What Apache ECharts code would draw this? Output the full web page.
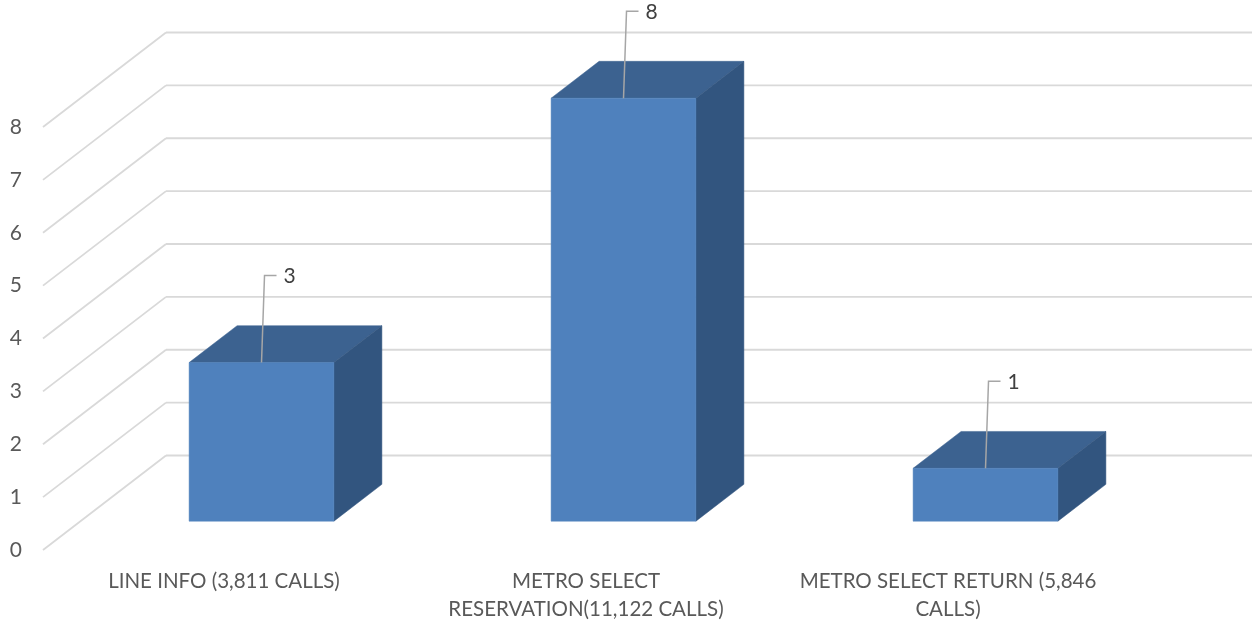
<!DOCTYPE html>
<html><head><meta charset="utf-8">
<script src="https://cdn.jsdelivr.net/npm/echarts@6/dist/echarts.min.js"></script>
<style>html,body{margin:0;padding:0;background:#fff}#c{width:1257px;height:627px}</style>
</head><body><div id="c"></div>
<script>
const categories = ['LINE INFO (3,811 CALLS)', 'METRO SELECT\nRESERVATION(11,122 CALLS)', 'METRO SELECT RETURN (5,846\nCALLS)'];
const values = [3, 8, 1];
const yTicks = [0, 1, 2, 3, 4, 5, 6, 7, 8];

const DX = 123, DY = -94.5;      // depth vector front->back wall
const F1 = 0.305, F2 = 0.695;    // bar front/back depth fractions
const BAR_W = 0.40;              // fraction of category band
const FONT = 'Lato';

const chart = echarts.init(document.getElementById('c'), null, {renderer: 'canvas'});
function pt(p, f) { return [p[0] + f * DX, p[1] + f * DY]; }

chart.setOption({
  animation: false,
  grid: {left: 43, right: 128, top: 127, bottom: 77},
  xAxis: {
    type: 'category', data: categories,
    axisLine: {show: false}, axisTick: {show: false},
    axisLabel: {color: '#595959', fontFamily: FONT, fontSize: 20.5, margin: 17, lineHeight: 28, interval: 0}
  },
  yAxis: {
    type: 'value', min: 0, max: 8, interval: 1,
    axisLine: {show: false}, axisTick: {show: false}, splitLine: {show: false},
    axisLabel: {color: '#595959', fontFamily: FONT, fontSize: 21, margin: 21, padding: [8, 0, 0, 0]}
  },
  series: [
    {
      type: 'custom', silent: true, z: 1,
      data: yTicks.map(v => [v]),
      renderItem: function (params, api) {
        const v = api.value(0);
        const band = api.size([1, 0])[0];
        const c0 = api.coord([0, v]);
        const c2 = api.coord([categories.length - 1, v]);
        const left = [c0[0] - band / 2, c0[1]];
        const right = [c2[0] + band / 2, c2[1]];
        const bl = pt(left, 1), br = pt(right, 1);
        const st = {stroke: '#d9d9d9', lineWidth: 1.8, fill: null};
        return {type: 'group', children: [
          {type: 'line', shape: {x1: bl[0], y1: bl[1], x2: br[0], y2: br[1]}, style: st},
          {type: 'line', shape: {x1: left[0], y1: left[1], x2: bl[0], y2: bl[1]}, style: st}
        ]};
      }
    },
    {
      type: 'custom', silent: true, z: 2,
      data: values.map((v, i) => [i, v]),
      renderItem: function (params, api) {
        const i = api.value(0), v = api.value(1);
        const band = api.size([1, 0])[0];
        const w = band * BAR_W;
        const b = api.coord([i, 0]), t = api.coord([i, v]);
        const xl = b[0] - w / 2, xr = b[0] + w / 2;
        const fbl = pt([xl, b[1]], F1), fbr = pt([xr, b[1]], F1);
        const ftl = pt([xl, t[1]], F1), ftr = pt([xr, t[1]], F1);
        const btl = pt([xl, t[1]], F2), btr = pt([xr, t[1]], F2);
        const bbr = pt([xr, b[1]], F2);
        const mid = pt([b[0], t[1]], F1);
        const top = [mid[0] + 3, mid[1] - 87];
        return {type: 'group', children: [
          {type: 'polygon', shape: {points: [ftl, ftr, btr, btl]}, style: {fill: '#3c6290', stroke: '#3c6290', lineWidth: 0.5}},
          {type: 'polygon', shape: {points: [fbr, ftr, btr, bbr]}, style: {fill: '#32557f', stroke: '#32557f', lineWidth: 0.5}},
          {type: 'polygon', shape: {points: [fbl, fbr, ftr, ftl]}, style: {fill: '#4f81bd', stroke: '#4f81bd', lineWidth: 0.5}},
          {type: 'polyline', shape: {points: [mid, top, [top[0] + 12, top[1]]]}, style: {stroke: '#a6a6a6', lineWidth: 1.5, fill: null}},
          {type: 'text', x: top[0] + 19, y: top[1] + 1, style: {text: String(v), fill: '#404040', font: '21px ' + FONT, textAlign: 'left', textVerticalAlign: 'middle'}}
        ]};
      }
    }
  ]
});
</script></body></html>
